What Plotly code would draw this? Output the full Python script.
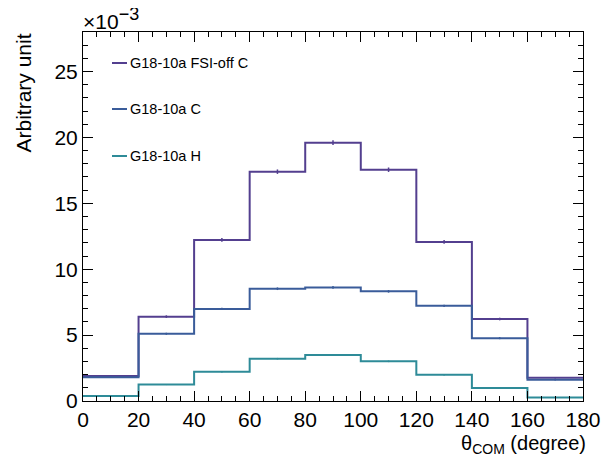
import plotly.graph_objects as go

# Bin edges (degrees) and bin contents (x 1e-3, arbitrary unit)
bin_edges = [0, 20, 40, 60, 80, 100, 120, 140, 160, 180]
fsi_off_c = [1.90, 6.40, 12.22, 17.40, 19.60, 17.55, 12.07, 6.22, 1.76]
g18_c = [1.81, 5.10, 6.99, 8.52, 8.62, 8.32, 7.22, 4.77, 1.61]
g18_h = [0.38, 1.25, 2.22, 3.21, 3.49, 3.01, 1.99, 0.99, 0.26]
err_fsi_off_c = [0.06, 0.10, 0.14, 0.17, 0.18, 0.17, 0.14, 0.10, 0.06]
err_g18_c = [0.05, 0.08, 0.09, 0.10, 0.10, 0.10, 0.09, 0.08, 0.05]
err_g18_h = [0.03, 0.04, 0.05, 0.06, 0.06, 0.06, 0.05, 0.04, 0.03]

series_names = ["G18-10a FSI-off C", "G18-10a C", "G18-10a H"]
series_colors = ["#533f8f", "#3a5c9a", "#2e8b98"]
series_vals = [fsi_off_c, g18_c, g18_h]
series_errs = [err_fsi_off_c, err_g18_c, err_g18_h]

centers = [(bin_edges[i] + bin_edges[i + 1]) / 2 for i in range(len(bin_edges) - 1)]

FONT = "Liberation Sans, Arial, Helvetica, sans-serif"

fig = go.Figure()
for name, col, vals, errs in zip(series_names, series_colors, series_vals, series_errs):
    fig.add_trace(go.Scatter(
        x=bin_edges, y=vals + [vals[-1]], mode="lines", line_shape="hv",
        line=dict(color=col, width=2), name=name, showlegend=False, hoverinfo="skip"))
    fig.add_trace(go.Scatter(
        x=centers, y=vals, mode="markers", marker=dict(size=0.1, color=col),
        error_y=dict(type="data", array=errs, color=col, thickness=1.5, width=0),
        showlegend=False, hoverinfo="skip"))

axis_common = dict(
    showline=True, linecolor="black", linewidth=1, mirror="allticks",
    ticks="inside", ticklen=10, tickwidth=1, tickcolor="black",
    showgrid=False, zeroline=False,
    tickfont=dict(family=FONT, size=21, color="black"),
)

fig.update_xaxes(range=[0, 180], dtick=20, tick0=0,
                 minor=dict(dtick=5, ticks="inside", ticklen=5, tickcolor="black"),
                 **axis_common)
fig.update_yaxes(range=[0, 28], dtick=5, tick0=0,
                 minor=dict(dtick=1, ticks="inside", ticklen=5, tickcolor="black"),
                 **axis_common)

# plot area in page pixels (used only to place the text/legend annotations)
plot_left, plot_top, plot_w, plot_h = 83, 32, 500, 369

annotations = [
    dict(text="×10<sup><span style='font-size:18px'>−3</span></sup>", xref="paper", yref="paper",
         x=-0.004, y=1.0, yshift=-3,
         xanchor="left", yanchor="bottom", showarrow=False,
         font=dict(family=FONT, size=21, color="black")),
    dict(text="Arbitrary unit", xref="paper", yref="paper", x=(23 - plot_left) / plot_w, y=1.0,
         xanchor="center", yanchor="top", textangle=-90, showarrow=False,
         font=dict(family=FONT, size=21, color="black")),
    dict(text="θ<sub>COM</sub> (degree)", xref="paper", yref="paper", x=(588 - plot_left) / plot_w,
         y=-(444 - (plot_top + plot_h)) / plot_h,
         xanchor="right", yanchor="middle", showarrow=False,
         font=dict(family=FONT, size=20, color="black")),
]
shapes = []
legend_y = [63, 109, 156]  # pixel rows of legend entries
for name, col, py in zip(series_names, series_colors, legend_y):
    yp = 1 - (py - plot_top) / plot_h
    shapes.append(dict(type="line", xref="paper", yref="paper",
                       x0=(112 - plot_left) / plot_w, x1=(127 - plot_left) / plot_w,
                       y0=yp, y1=yp, line=dict(color=col, width=2)))
    annotations.append(dict(text=name, xref="paper", yref="paper", x=(128 - plot_left) / plot_w,
                            y=yp, xanchor="left", yanchor="middle", showarrow=False,
                            font=dict(family=FONT, size=14.5, color="black")))

fig.update_layout(
    width=611, height=457,
    margin=dict(l=75, r=36, t=24, b=64),
    paper_bgcolor="white", plot_bgcolor="white",
    annotations=annotations, shapes=shapes,
    showlegend=False,
)

fig.write_html("out.html")
